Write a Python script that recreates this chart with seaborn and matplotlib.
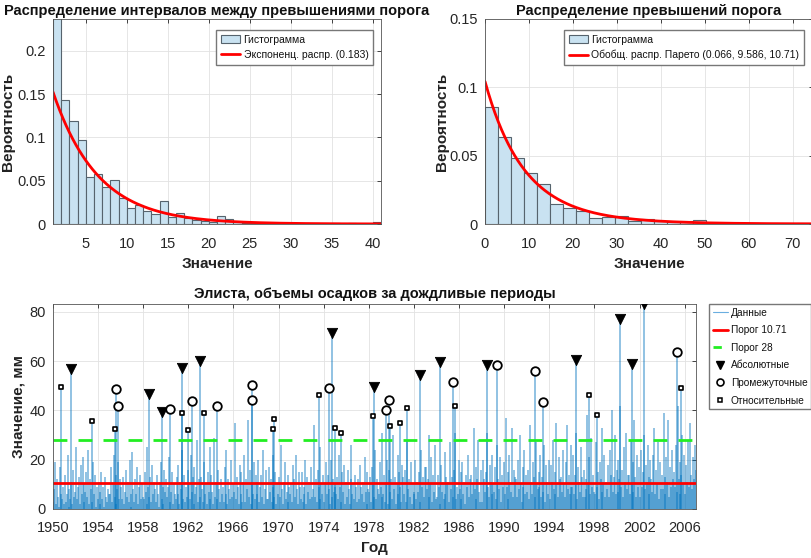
import numpy as np
import pandas as pd
import matplotlib
matplotlib.use("Agg")
import matplotlib.pyplot as plt
import seaborn as sns
from matplotlib.lines import Line2D
from matplotlib.patches import Patch

# --- histogram of intervals between exceedances (bin width 1, from 1) ---
int_edges = list(range(1, 42))
int_heights = [0.240, 0.1434, 0.119, 0.0967, 0.054, 0.0578, 0.0424, 0.0505, 0.0297, 0.0181,
               0.0224, 0.015, 0.0112, 0.0262, 0.0081, 0.0131, 0.0069, 0.0046, 0.0039, 0.0023,
               0.0089, 0.0054, 0.0027, 0.0015, 0.0012, 0.0008, 0.0008, 0.0004, 0.0008, 0.0004,
               0.0004, 0, 0, 0, 0.0015, 0, 0.0015, 0, 0, 0.0019]
exp_rate = 0.183

# --- histogram of exceedances over threshold ---
exc_bin_width = 2.96
exc_heights = [0.0859, 0.0634, 0.0483, 0.0371, 0.029, 0.0149, 0.0115, 0.0095, 0.0041, 0.0054,
               0.0056, 0.0024, 0.0034, 0.0022, 0.0012, 0.0022, 0.0029, 0, 0, 0, 0, 0, 0, 0, 0.0006]
gp_k, gp_sigma, gp_theta = 0.066, 9.586, 10.71

# --- rainy period totals, rows = years 1950..2006 ---
rain_by_year = [
    [3, 8, 19, 2, 12, 5, 1, 17, 6, 4, 9, 2],
    [14, 3, 6, 22, 1, 8, 4, 11, 2, 16, 5, 7],
    [25, 4, 9, 13, 2, 18, 6, 21, 3, 10, 7, 15],
    [5, 24, 2, 12, 8, 3, 19, 6, 14, 1, 9, 4],
    [11, 2, 7, 15, 4, 9, 1, 13, 5, 3, 8, 6],
    [6, 17, 3, 10, 22, 5, 2, 14, 8, 19, 4, 12],
    [9, 4, 13, 2, 7, 16, 5, 11, 3, 20, 6, 1],
    [23, 8, 3, 12, 6, 17, 2, 9, 14, 4, 10, 5],
    [4, 15, 7, 2, 25, 9, 5, 13, 3, 18, 6, 11],
    [8, 3, 14, 6, 1, 11, 19, 4, 9, 2, 16, 7],
    [12, 5, 9, 21, 3, 7, 15, 2, 10, 6, 4, 13],
    [6, 18, 2, 11, 8, 24, 4, 14, 3, 9, 5, 16],
    [10, 4, 22, 7, 13, 2, 17, 6, 9, 28, 3, 12],
    [5, 13, 8, 3, 19, 6, 10, 2, 15, 7, 25, 4],
    [14, 7, 2, 29, 5, 11, 4, 16, 8, 3, 12, 6],
    [9, 3, 17, 6, 24, 2, 12, 8, 4, 20, 5, 10],
    [7, 35, 4, 13, 9, 2, 18, 6, 15, 3, 11, 22],
    [3, 12, 8, 36, 5, 16, 2, 10, 6, 19, 4, 14],
    [11, 6, 20, 3, 9, 14, 5, 24, 2, 8, 16, 4],
    [4, 17, 7, 12, 3, 22, 9, 5, 15, 2, 10, 6],
    [13, 5, 26, 8, 2, 11, 19, 4, 7, 14, 3, 9],
    [6, 10, 3, 18, 12, 5, 22, 8, 2, 15, 9, 4],
    [15, 3, 9, 6, 20, 2, 13, 7, 11, 4, 17, 5],
    [8, 34, 5, 12, 3, 16, 9, 25, 4, 10, 6, 14],
    [3, 11, 19, 6, 14, 8, 2, 20, 5, 12, 7, 9],
    [10, 6, 13, 4, 22, 9, 3, 15, 7, 18, 2, 11],
    [5, 16, 8, 2, 12, 26, 6, 10, 4, 14, 9, 3],
    [12, 4, 18, 9, 6, 11, 3, 21, 7, 2, 15, 8],
    [7, 13, 3, 17, 10, 5, 24, 4, 12, 8, 6, 19],
    [9, 5, 31, 6, 14, 3, 11, 20, 2, 16, 7, 12],
    [4, 30, 8, 13, 2, 10, 22, 6, 15, 9, 3, 18],
    [13, 6, 16, 3, 28, 8, 12, 5, 19, 2, 10, 7],
    [6, 20, 4, 11, 7, 15, 3, 24, 9, 13, 5, 17],
    [17, 8, 12, 30, 5, 10, 21, 3, 14, 7, 26, 4],
    [5, 14, 9, 2, 18, 7, 11, 4, 23, 6, 13, 10],
    [11, 3, 27, 8, 13, 5, 16, 31, 4, 9, 6, 20],
    [8, 15, 4, 19, 6, 11, 2, 14, 9, 22, 5, 12],
    [14, 6, 10, 33, 8, 17, 4, 12, 28, 7, 3, 16],
    [3, 20, 12, 7, 15, 31, 9, 5, 18, 11, 22, 6],
    [10, 7, 17, 4, 26, 12, 8, 21, 3, 14, 9, 19],
    [6, 37, 9, 15, 4, 22, 11, 7, 33, 5, 16, 13],
    [12, 5, 20, 8, 30, 10, 3, 17, 9, 24, 6, 14],
    [7, 16, 4, 34, 11, 6, 19, 13, 5, 27, 10, 8],
    [15, 9, 22, 5, 13, 7, 26, 3, 18, 11, 6, 20],
    [4, 18, 11, 28, 8, 15, 6, 35, 10, 5, 21, 12],
    [13, 7, 24, 10, 5, 19, 34, 8, 14, 6, 26, 9],
    [9, 22, 6, 14, 31, 4, 17, 11, 7, 25, 13, 5],
    [16, 5, 12, 8, 38, 10, 21, 6, 29, 9, 14, 7],
    [6, 27, 9, 15, 4, 19, 12, 33, 7, 11, 22, 5],
    [11, 8, 18, 5, 24, 14, 40, 7, 13, 30, 6, 16],
    [7, 20, 12, 42, 9, 16, 5, 25, 11, 31, 8, 14],
    [14, 6, 28, 10, 19, 7, 36, 13, 5, 22, 9, 17],
    [5, 24, 9, 15, 30, 8, 18, 11, 26, 6, 13, 20],
    [12, 7, 22, 33, 6, 16, 10, 27, 4, 19, 8, 14],
    [8, 39, 13, 6, 21, 11, 36, 5, 17, 9, 24, 12],
    [15, 9, 26, 7, 42, 12, 19, 6, 14, 30, 10, 22],
    [6, 18, 11, 28, 9, 35, 14, 8, 21, 12, 26, 16],
]
first_year = 1950

abs_years = [1951.6, 1958.52, 1959.65, 1961.4, 1963.0, 1974.69, 1978.46, 1982.5, 1984.31,
             1988.43, 1996.4, 2000.27, 2001.3, 2002.42]
abs_vals = [56.7, 46.5, 39.3, 57.3, 60.2, 71.3, 49.4, 54.5, 59.5, 58.5, 60.4, 77.3, 59.0, 83.1]
mid_years = [1955.6, 1955.75, 1960.38, 1962.36, 1964.54, 1967.64, 1967.66, 1974.48, 1979.56,
             1979.82, 1985.49, 1989.32, 1992.71, 1993.48, 2005.31]
mid_vals = [48.8, 41.7, 40.6, 44.0, 41.9, 50.2, 44.3, 49.2, 40.3, 44.1, 51.5, 58.5, 56.1, 43.4, 63.7]
rel_years = [1950.68, 1953.48, 1955.5, 1961.42, 1961.95, 1963.42, 1969.5, 1969.58, 1973.54,
             1975.0, 1975.55, 1978.4, 1979.84, 1980.74, 1981.35, 1985.66, 1997.52, 1998.2, 2005.66]
rel_vals = [49.6, 35.7, 32.6, 38.9, 32.0, 39.1, 32.5, 36.4, 46.1, 33.0, 30.9, 37.6, 33.6, 34.9,
            41.1, 41.7, 46.3, 38.0, 49.2]
thr_low, thr_high = 10.71, 28

# --- styling ---
sns.set_theme(style="whitegrid")
plt.rcParams['font.family'] = ['Liberation Sans', 'DejaVu Sans']
plt.rcParams.update({
    'axes.edgecolor': '#555555', 'axes.linewidth': 0.6, 'grid.color': '#e2e2e2',
    'grid.linewidth': 0.6, 'xtick.color': '#262626', 'ytick.color': '#262626',
    'text.color': '#111111', 'axes.labelcolor': '#222222',
})
hist_face = '#c9e2f1'
hist_edge = '#56636d'
data_blue = '#0072BD'


def style_axes(ax):
    ax.tick_params(direction='in', length=3, width=0.6, top=True, right=True,
                   labelsize=10.5)
    ax.tick_params(axis='x', pad=9)
    ax.tick_params(axis='y', pad=5)
    for s in ax.spines.values():
        s.set_visible(True)
        s.set_color('#555555')
        s.set_linewidth(0.6)
    ax.grid(True, color='#e2e2e2', linewidth=0.6)


def legend_style():
    return dict(fancybox=False, edgecolor='#777777', framealpha=1, borderaxespad=0)


fig = plt.figure(figsize=(8.12, 5.58), dpi=100)
ax1 = fig.add_axes([53 / 812, 1 - 224 / 558, 328 / 812, 205 / 558])
ax2 = fig.add_axes([485 / 812, 1 - 224 / 558, 328 / 812, 205 / 558])
ax3 = fig.add_axes([53 / 812, 1 - 509 / 558, 643 / 812, 205 / 558])

hist_handle = Patch(facecolor=hist_face, edgecolor=hist_edge, linewidth=0.8)

# Plot 1: intervals
int_centers = [e + 0.5 for e in int_edges[:-1]]
sns.histplot(x=int_centers, weights=int_heights, bins=int_edges, ax=ax1, color=hist_face,
             edgecolor=hist_edge, linewidth=0.8, alpha=1)
xi = np.linspace(1, 41, 300)
sns.lineplot(x=xi, y=exp_rate * np.exp(-exp_rate * xi), ax=ax1, color='red', linewidth=2)
ax1.set_xlim(1, 41)
ax1.set_ylim(0, 0.2366)
ax1.set_xticks(range(5, 41, 5))
ax1.set_yticks([0, 0.05, 0.1, 0.15, 0.2])
ax1.set_yticklabels(['0', '0.05', '0.1', '0.15', '0.2'])
ax1.set_title('Распределение интервалов между превышениями порога', fontsize=10.5,
              fontweight='bold', pad=3)
ax1.set_xlabel('Значение', fontsize=11, fontweight='bold', labelpad=5)
ax1.set_ylabel('Вероятность', fontsize=11, fontweight='bold')
ax1.yaxis.set_label_coords(-0.115, 0.5)
style_axes(ax1)
ax1.legend([hist_handle, Line2D([], [], color='red', linewidth=2)],
           ['Гистограмма', 'Экспоненц. распр. ({:.3f})'.format(exp_rate)],
           loc='upper right', bbox_to_anchor=(0.976, 0.946), fontsize=7.5,
           handlelength=1.8, handletextpad=0.35, borderpad=0.45, labelspacing=0.5,
           **legend_style())

# Plot 2: exceedances
exc_edges = [i * exc_bin_width for i in range(len(exc_heights) + 1)]
exc_centers = [e + exc_bin_width / 2 for e in exc_edges[:-1]]
sns.histplot(x=exc_centers, weights=exc_heights, bins=exc_edges, ax=ax2, color=hist_face,
             edgecolor=hist_edge, linewidth=0.8, alpha=1)
xe = np.linspace(0, 75, 300)
gp_pdf = (1 / gp_sigma) * (1 + gp_k * xe / gp_sigma) ** (-1 - 1 / gp_k)
sns.lineplot(x=xe, y=gp_pdf, ax=ax2, color='red', linewidth=2)
ax2.set_xlim(0, 74.6)
ax2.set_ylim(0, 0.15)
ax2.set_xticks(range(0, 71, 10))
ax2.set_yticks([0, 0.05, 0.1, 0.15])
ax2.set_yticklabels(['0', '0.05', '0.1', '0.15'])
ax2.set_title('Распределение превышений порога', fontsize=10.5, fontweight='bold', pad=3)
ax2.set_xlabel('Значение', fontsize=11, fontweight='bold', labelpad=5)
ax2.set_ylabel('Вероятность', fontsize=11, fontweight='bold')
ax2.yaxis.set_label_coords(-0.11, 0.5)
style_axes(ax2)
ax2.legend([hist_handle, Line2D([], [], color='red', linewidth=2)],
           ['Гистограмма', 'Обобщ. распр. Парето ({}, {}, {})'.format(gp_k, gp_sigma, gp_theta)],
           loc='upper right', bbox_to_anchor=(0.973, 0.946), fontsize=7.5,
           handlelength=1.8, handletextpad=0.35, borderpad=0.45, labelspacing=0.5,
           **legend_style())

# Plot 3: time series
rows = []
for yi, vals in enumerate(rain_by_year):
    for j, v in enumerate(vals):
        rows.append((first_year + yi + (j + 0.5) / len(vals), v))
for t, v in zip(abs_years + mid_years + rel_years, abs_vals + mid_vals + rel_vals):
    rows.append((t, v))
ts = pd.DataFrame(rows, columns=['year', 'value'])

ax3.vlines(ts['year'], 0, ts['value'], color=data_blue, linewidth=1.1, alpha=0.55)
ax3.axhline(thr_low, color='red', linewidth=2)
ax3.axhline(thr_high, color='#22ee22', linewidth=2, linestyle=(0, (5, 4)))
sns.scatterplot(x=abs_years, y=abs_vals, ax=ax3, marker='v', color='black', s=55,
                edgecolor='black', zorder=5)
sns.scatterplot(x=mid_years, y=mid_vals, ax=ax3, marker='o', facecolor='white', s=38,
                edgecolor='black', linewidth=1.3, zorder=5)
sns.scatterplot(x=rel_years, y=rel_vals, ax=ax3, marker='s', facecolor='white', s=12,
                edgecolor='black', linewidth=1.2, zorder=5)
ax3.set_xlim(1950, 2007)
ax3.set_ylim(0, 83.2)
ax3.set_xticks(range(1950, 2007, 4))
ax3.set_yticks([0, 20, 40, 60, 80])
ax3.set_title('Элиста, объемы осадков за дождливые периоды', fontsize=10.5,
              fontweight='bold', pad=4)
ax3.set_xlabel('Год', fontsize=11, fontweight='bold', labelpad=4)
ax3.set_ylabel('Значение, мм', fontsize=11, fontweight='bold')
ax3.yaxis.set_label_coords(-0.043, 0.5)
style_axes(ax3)

handles = [
    Line2D([], [], color='#6aaee0', linewidth=0.8),
    Line2D([], [], color='red', linewidth=2),
    Line2D([], [], color='#22ee22', linewidth=2, linestyle=(0, (3, 3))),
    Line2D([], [], color='black', marker='v', linestyle='none', markersize=6),
    Line2D([], [], color='black', marker='o', markerfacecolor='white', linestyle='none',
           markersize=5, markeredgewidth=1.2),
    Line2D([], [], color='black', marker='s', markerfacecolor='white', linestyle='none',
           markersize=3, markeredgewidth=1.1),
]
labels = ['Данные', 'Порог {}'.format(thr_low), 'Порог {}'.format(thr_high), 'Абсолютные',
          'Промежуточные', 'Относительные']
fig.legend(handles, labels, loc='upper left', bbox_to_anchor=(709 / 812, 1 - 304 / 558),
           fontsize=7.3, handlelength=1.5, handletextpad=0.3, borderpad=0.35,
           labelspacing=0.75, **legend_style())

fig.savefig('out.png', dpi=100)
